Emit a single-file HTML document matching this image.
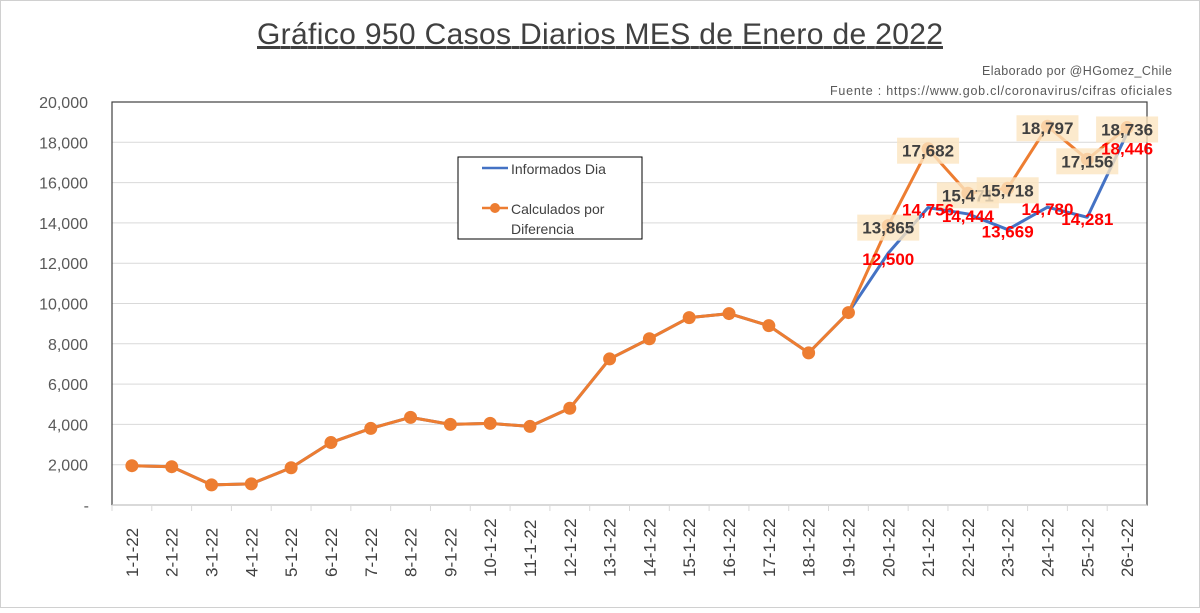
<!DOCTYPE html>
<html><head><meta charset="utf-8"><style>
html,body{margin:0;padding:0;background:#fff;}
body{width:1200px;height:608px;overflow:hidden;font-family:"Liberation Sans",sans-serif;}
</style></head><body>
<svg id="chart" width="1200" height="608" xmlns="http://www.w3.org/2000/svg" font-family="Liberation Sans, sans-serif">
<rect x="0.5" y="0.5" width="1199" height="607" fill="#fff" stroke="#d0d0d0"/>
<text x="600" y="44" text-anchor="middle" font-size="30" fill="#404040" text-decoration="underline" textLength="686">Gráfico 950 Casos Diarios MES de  Enero de 2022</text>
<text x="1172" y="75" text-anchor="end" font-size="12.5" fill="#595959" textLength="190">Elaborado por @HGomez_Chile</text>
<text x="1172" y="95" text-anchor="end" font-size="12.5" fill="#595959" textLength="342">Fuente  : https://www.gob.cl/coronavirus/cifras oficiales</text>
<g id="grid"></g><g id="axes"></g><g id="series"></g><g id="labels"></g>
<g>
<rect x="458" y="157" width="184" height="82" fill="#fff" stroke="#000" stroke-width="1"/>
<line x1="482" y1="168" x2="508" y2="168" stroke="#4472c4" stroke-width="2.5"/>
<text x="511" y="174" font-size="14" fill="#404040">Informados Dia</text>
<line x1="482" y1="208" x2="508" y2="208" stroke="#ed7d31" stroke-width="2.5"/>
<circle cx="495" cy="208" r="5" fill="#ed7d31"/>
<text x="511" y="214" font-size="14" fill="#404040">Calculados por</text>
<text x="511" y="234" font-size="14" fill="#404040">Diferencia</text>
</g>
</svg>
<script>
const categories=["1-1-22","2-1-22","3-1-22","4-1-22","5-1-22","6-1-22","7-1-22","8-1-22","9-1-22","10-1-22","11-1-22","12-1-22","13-1-22","14-1-22","15-1-22","16-1-22","17-1-22","18-1-22","19-1-22","20-1-22","21-1-22","22-1-22","23-1-22","24-1-22","25-1-22","26-1-22"];
const informados=[1950,1900,1000,1050,1850,3100,3800,4350,4000,4050,3900,4800,7250,8250,9300,9500,8900,7550,9550,12500,14756,14444,13669,14780,14281,18446];
const calculados=[1950,1900,1000,1050,1850,3100,3800,4350,4000,4050,3900,4800,7250,8250,9300,9500,8900,7550,9550,13865,17682,15471,15718,18797,17156,18736];
const yTicks=[0,2000,4000,6000,8000,10000,12000,14000,16000,18000,20000];
const labelStart=19;
const NS="http://www.w3.org/2000/svg";
const L=112,R=1147,T=102,B=505,YMAX=20000;
const band=(R-L)/categories.length;
const xs=i=>L+band*(i+0.5);
const ys=v=>B-(v/YMAX)*(B-T);
function mk(tag,attrs,parent,txt){const e=document.createElementNS(NS,tag);for(const k in attrs)e.setAttribute(k,attrs[k]);if(txt!==undefined)e.textContent=txt;parent.appendChild(e);return e;}
const grid=document.getElementById('grid'),axes=document.getElementById('axes'),ser=document.getElementById('series'),lab=document.getElementById('labels');
yTicks.forEach(t=>{
  const y=ys(t);
  if(t>0&&t<YMAX){const g=mk('line',{x1:L,x2:R,y1:y,y2:y,stroke:'#d9d9d9','stroke-width':1},grid);
  
  }
  const tx=mk('text',{x:t===0?89:88,y:y+6,'text-anchor':'end','font-size':16,fill:'#595959'},axes,t===0?'-':t.toLocaleString('en-US'));
  
  
});
mk('rect',{x:L,y:T,width:R-L,height:B-T,fill:'none',stroke:'#404040','stroke-width':1.2},axes);
mk('line',{x1:L,x2:R,y1:B,y2:B,stroke:'#d9d9d9','stroke-width':1},axes);
categories.forEach((c,i)=>{
  const xe=L+band*i;
  mk('line',{x1:xe,x2:xe,y1:B,y2:B+6,stroke:'#d9d9d9'},axes);
  const x=xs(i);
  const tx=mk('text',{x:0,y:0,transform:`translate(${x+6},${577}) rotate(-90)`,'font-size':17,fill:'#404040'},axes,c);
  
  
});
function line(data,color,name){
  const p=mk('polyline',{points:data.map((v,i)=>xs(i)+','+ys(v)).join(' '),fill:'none',stroke:color,'stroke-width':3,'stroke-linejoin':'round'},ser);
  
  
}
line(informados,'#4472c4','informados-line');
line(calculados,'#ed7d31','calculados-line');
calculados.forEach((v,i)=>{
  const c=mk('circle',{cx:xs(i),cy:ys(v),r:6.5,fill:'#ed7d31'},ser);
  
  
});
for(let i=labelStart;i<categories.length;i++){
  const x=xs(i),s=calculados[i].toLocaleString('en-US');
  const oy=ys(calculados[i])+8;
  mk('rect',{x:x-31,y:oy-19,width:62,height:26,fill:'#fbe5c0',opacity:0.8},lab);
  const t=mk('text',{x:x,y:oy,'text-anchor':'middle','font-size':17,'font-weight':'bold',fill:'#404040'},lab,s);
  
  
}
for(let i=labelStart;i<categories.length;i++){
  const x=xs(i),b=informados[i],bs=b.toLocaleString('en-US');
  const by=ys(b)+8+(i===25?13:(i===19?4:0));
  const r=mk('text',{x:x,y:by,'text-anchor':'middle','font-size':17,'font-weight':'bold',fill:'#ff0000'},lab,bs);
  
  
}
</script>
</body></html>
